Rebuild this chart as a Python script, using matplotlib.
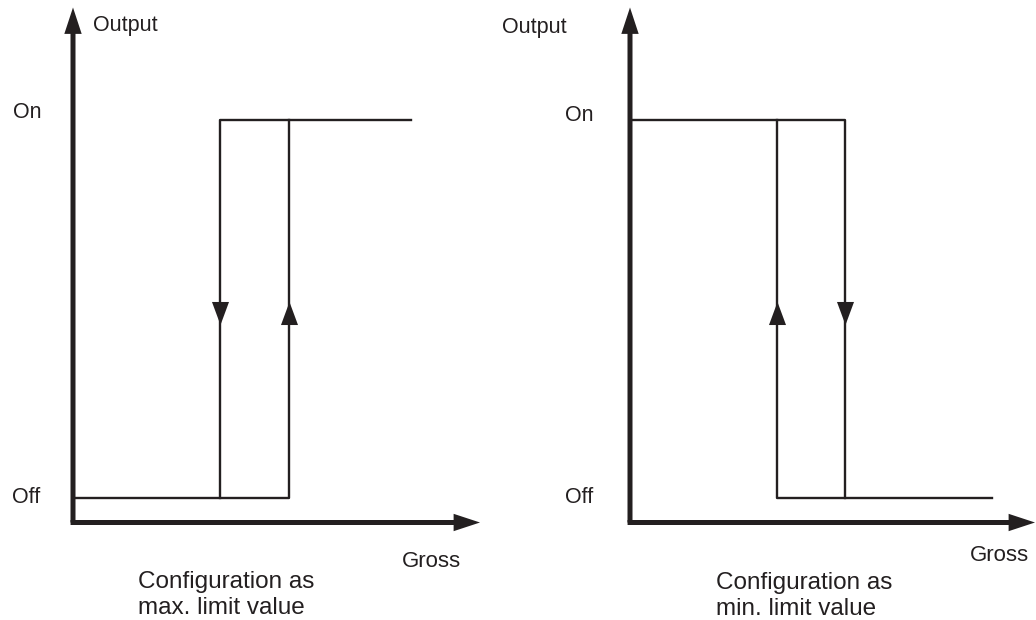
import matplotlib.pyplot as plt
from matplotlib.patches import FancyArrowPatch, ArrowStyle

plt.rcParams['font.family'] = ['Liberation Sans', 'DejaVu Sans']

W, H = 1036, 620
INK = '#231f20'

# output levels: 0 = Off, 1 = On ; gross in arbitrary units (0..10)
off_level = 0
on_level = 1
arrow_y = 0.49

# configuration as max. limit value
max_low = [0.0, 5.3]      # off branch
max_high = [3.62, 8.3]    # on branch
max_down_x = 3.62
max_up_x = 5.3

# configuration as min. limit value
min_high = [0.0, 5.3]     # on branch
min_low = [3.62, 8.95]    # off branch
min_up_x = 3.62
min_down_x = 5.3

fig = plt.figure(figsize=(W / 100, H / 100), dpi=100)


def px_text(x, y, s, size=15.5):
    fig.text(x / W, 1 - y / H, s, fontsize=size, color=INK, va='baseline', ha='left')


def make_panel(left, right, top=7.5, bottom=522.5):
    ax = fig.add_axes([left / W, 1 - bottom / H, (right - left) / W, (bottom - top) / H])
    ax.set_xlim(0, 10)
    ax.set_ylim(-0.065, 1.297)
    ax.axis('off')
    style = ArrowStyle.Simple(head_length=19, head_width=12.5, tail_width=3.6)
    for a, b in [((-0.006, 0), (1, 0)), ((0, 0), (0, 1))]:
        arr = FancyArrowPatch(posA=a, posB=b, transform=ax.transAxes, arrowstyle=style,
                              mutation_scale=1, shrinkA=0, shrinkB=0, color=INK, lw=0,
                              clip_on=False)
        ax.add_patch(arr)
    return ax


down_tri = [(-8.5, 11.5), (8.5, 11.5), (0, -11.5), (-8.5, 11.5)]
up_tri = [(-8.5, -11.5), (8.5, -11.5), (0, 11.5), (-8.5, -11.5)]
line_kw = dict(color=INK, lw=1.7, clip_on=False)
mark_kw = dict(color=INK, ms=16.6, mew=0, ls='none', clip_on=False)

# left panel: max. limit value
ax1 = make_panel(73, 480)
ax1.plot([max_low[0], max_low[1], max_up_x], [off_level, off_level, on_level], **line_kw)
ax1.plot([max_down_x, max_high[0], max_high[1]], [off_level, on_level, on_level], **line_kw)
ax1.plot([max_down_x], [arrow_y], marker=down_tri, **mark_kw)
ax1.plot([max_up_x], [arrow_y], marker=up_tri, **mark_kw)

# right panel: min. limit value
ax2 = make_panel(630, 1035)
ax2.plot([min_high[0], min_high[1], min_down_x], [on_level, on_level, off_level], **line_kw)
ax2.plot([min_up_x, min_low[0], min_low[1]], [on_level, off_level, off_level], **line_kw)
ax2.plot([min_up_x], [arrow_y], marker=up_tri, **mark_kw)
ax2.plot([min_down_x], [arrow_y], marker=down_tri, **mark_kw)

# labels
px_text(93, 31, "Output")
px_text(13, 118, "On")
px_text(12, 503, "Off")
px_text(402, 567, "Gross", 16)
px_text(138, 588, "Configuration as", 17.5)
px_text(138, 614, "max. limit value", 17.5)

px_text(502, 33, "Output")
px_text(565, 121, "On")
px_text(565, 503, "Off")
px_text(970, 561, "Gross", 16)
px_text(716, 589, "Configuration as", 17.5)
px_text(716, 615, "min. limit value", 17.5)

fig.savefig("out.png", dpi=100)
